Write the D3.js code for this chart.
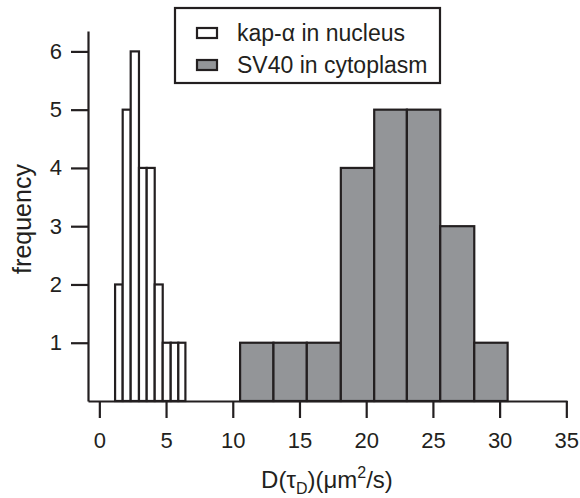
<!DOCTYPE html>
<meta charset="utf-8">
<script src="https://d3js.org/d3.v7.min.js"></script>
<style>
  body { margin: 0; background: #fff; }
  text { font-family: "Liberation Sans", Arial, sans-serif; fill: #231f20; }
</style>
<div id="my_dataviz"></div>
<script>

// kap-alpha in nucleus: bin edges and counts
var kapEdges = [1.18, 1.75, 2.35, 2.97, 3.55, 4.15, 4.75, 5.35, 5.92, 6.45];
var kapCounts = [2, 5, 6, 4, 4, 2, 1, 1, 1];

// SV40 in cytoplasm: bin edges and counts
var svEdges = [10.55, 13.05, 15.55, 18.1, 20.6, 23.05, 25.55, 28.1, 30.6];
var svCounts = [1, 1, 1, 4, 5, 5, 3, 1];

var xTicks = [0, 5, 10, 15, 20, 25, 30, 35];
var yTicks = [1, 2, 3, 4, 5, 6];
var legendLabels = ["kap-\u03b1 in nucleus", "SV40 in cytoplasm"];

var width = 580, height = 498;
var ink = "#231f20", grey = "#939598";

var svg = d3.select("#my_dataviz")
  .append("svg")
    .attr("width", width)
    .attr("height", height);

// scales
var x = d3.scaleLinear().domain([-0.85, 35.05]).range([88, 567]);
var y = d3.scaleLinear().domain([0, 6.35]).range([401, 31]);

// build bar lists from edges
function toBars(edges, counts) {
  return counts.map(function(c, i) { return {x0: edges[i], x1: edges[i + 1], n: c}; });
}
var kapBars = toBars(kapEdges, kapCounts);
var svBars = toBars(svEdges, svCounts);

// bars
svg.append("g").selectAll("rect")
  .data(svBars)
  .enter().append("rect")
    .attr("x", function(d) { return x(d.x0); })
    .attr("y", function(d) { return y(d.n); })
    .attr("width", function(d) { return x(d.x1) - x(d.x0); })
    .attr("height", function(d) { return y(0) - y(d.n); })
    .style("fill", grey)
    .style("stroke", ink)
    .style("stroke-width", 2.2);

svg.append("g").selectAll("rect")
  .data(kapBars)
  .enter().append("rect")
    .attr("x", function(d) { return x(d.x0); })
    .attr("y", function(d) { return y(d.n); })
    .attr("width", function(d) { return x(d.x1) - x(d.x0); })
    .attr("height", function(d) { return y(0) - y(d.n); })
    .style("fill", "#fff")
    .style("stroke", ink)
    .style("stroke-width", 2.2);

// X axis
var xAxis = svg.append("g")
  .attr("transform", "translate(0," + y(0) + ")")
  .call(d3.axisBottom(x).tickValues(xTicks).tickFormat(d3.format("d"))
    .tickSize(17).tickPadding(14).tickSizeOuter(0));
xAxis.select(".domain").style("stroke", ink).style("stroke-width", 2.2);
xAxis.selectAll(".tick line").style("stroke", ink).style("stroke-width", 2.2);
xAxis.selectAll("text").style("font-size", "22px").style("fill", ink)
  .style("font-family", "Liberation Sans, Arial, sans-serif");

// Y axis
var yAxis = svg.append("g")
  .attr("transform", "translate(" + x(-0.85) + ",0)")
  .call(d3.axisLeft(y).tickValues(yTicks).tickFormat(d3.format("d"))
    .tickSize(17).tickPadding(9).tickSizeOuter(0));
yAxis.select(".domain").style("stroke", ink).style("stroke-width", 2.2);
yAxis.selectAll(".tick line").style("stroke", ink).style("stroke-width", 2.2);
yAxis.selectAll("text").style("font-size", "22px").style("fill", ink)
  .style("font-family", "Liberation Sans, Arial, sans-serif");

// axis titles
var xTitle = svg.append("text")
  .attr("x", 327)
  .attr("y", 488)
  .attr("text-anchor", "middle")
  .style("font-size", "24px");
xTitle.append("tspan").text("D(\u03c4");
xTitle.append("tspan").attr("dy", 6).style("font-size", "16px").text("D");
xTitle.append("tspan").attr("dy", -6).text(")(\u03bcm");
xTitle.append("tspan").attr("dy", -10).style("font-size", "16px").text("2");
xTitle.append("tspan").attr("dy", 10).text("/s)");

svg.append("text")
  .attr("transform", "translate(31,219) rotate(-90)")
  .attr("text-anchor", "middle")
  .style("font-size", "25px")
  .text("frequency");

// legend
var legend = svg.append("g");
legend.append("rect")
  .attr("x", 175).attr("y", 8)
  .attr("width", 265).attr("height", 75)
  .style("fill", "#fff")
  .style("stroke", ink)
  .style("stroke-width", 2.2);

legend.selectAll("rect.sw")
  .data(legendLabels)
  .enter().append("rect")
    .attr("class", "sw")
    .attr("x", 197)
    .attr("y", function(d, i) { return 28 + i * 32; })
    .attr("width", 20).attr("height", 10)
    .style("fill", function(d, i) { return i === 0 ? "#fff" : grey; })
    .style("stroke", ink)
    .style("stroke-width", 2.2);

legend.selectAll("text")
  .data(legendLabels)
  .enter().append("text")
    .attr("x", 237)
    .attr("y", function(d, i) { return 41 + i * 32; })
    .style("font-size", "23px")
    .text(function(d) { return d; });

</script>
